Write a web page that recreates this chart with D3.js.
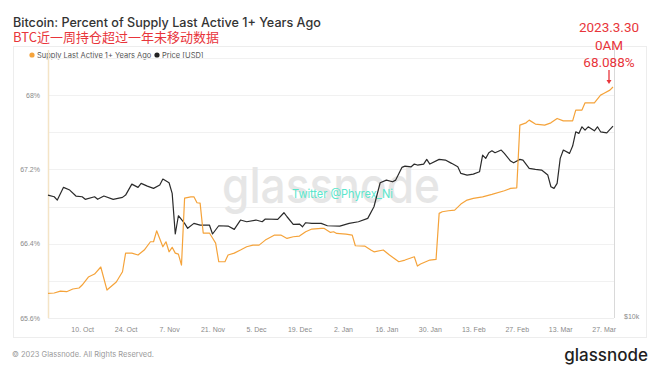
<!DOCTYPE html>
<meta charset="utf-8">
<style>
    body { margin: 0; background: #fff; }
    svg { display: block; font-family: Inter, "Noto Sans", sans-serif; }
    .grid line { stroke: #f1f1f1; }
    .axis text { fill: #8a8a8a; font-size: 7px; }
    .red { fill: #e8353b; font-family: "Liberation Sans Narrow", "Roboto", sans-serif; }
</style>

<body>
    <svg width="660" height="372"></svg>
    <script src="https://d3js.org/d3.v7.min.js"></script>
    <script>
        // Supply Last Active 1+ Years Ago (%)
        var supplyDates = ["2022-09-29", "2022-10-01", "2022-10-03", "2022-10-05", "2022-10-07", "2022-10-09", "2022-10-10", "2022-10-12", "2022-10-14", "2022-10-16",
            "2022-10-18", "2022-10-21", "2022-10-23", "2022-10-24", "2022-10-26", "2022-10-28", "2022-10-30", "2022-11-01", "2022-11-02", "2022-11-03",
            "2022-11-05", "2022-11-06", "2022-11-07", "2022-11-08", "2022-11-09", "2022-11-10", "2022-11-11", "2022-11-12", "2022-11-14", "2022-11-15",
            "2022-11-16", "2022-11-17", "2022-11-18", "2022-11-20", "2022-11-21", "2022-11-22", "2022-11-23", "2022-11-25", "2022-11-26", "2022-11-28",
            "2022-11-30", "2022-12-02", "2022-12-04", "2022-12-06", "2022-12-08", "2022-12-11", "2022-12-13", "2022-12-15", "2022-12-17", "2022-12-19",
            "2022-12-21", "2022-12-23", "2022-12-26", "2022-12-27", "2022-12-29", "2022-12-30", "2022-12-31", "2023-01-03", "2023-01-05", "2023-01-06",
            "2023-01-09", "2023-01-11", "2023-01-12", "2023-01-15", "2023-01-17", "2023-01-20", "2023-01-22", "2023-01-25", "2023-01-26", "2023-01-27",
            "2023-01-30", "2023-02-01", "2023-02-02", "2023-02-03", "2023-02-05", "2023-02-07", "2023-02-09", "2023-02-11", "2023-02-13", "2023-02-16",
            "2023-02-19", "2023-02-23", "2023-02-25", "2023-02-27", "2023-02-28", "2023-03-02", "2023-03-03", "2023-03-05", "2023-03-08", "2023-03-10",
            "2023-03-12", "2023-03-14", "2023-03-17", "2023-03-18", "2023-03-20", "2023-03-21", "2023-03-24", "2023-03-26", "2023-03-27", "2023-03-29",
            "2023-03-30"];
        var supplyValues = [65.865, 65.869, 65.890, 65.883, 65.912, 65.923, 65.955, 66.041, 66.073, 66.149,
            65.901, 65.987, 66.098, 66.299, 66.299, 66.278, 66.332, 66.421, 66.421, 66.539,
            66.367, 66.421, 66.313, 66.361, 66.299, 66.288, 66.170, 66.891, 66.905, 66.905,
            66.841, 66.837, 66.515, 66.515, 66.461, 66.407, 66.206, 66.206, 66.278, 66.299,
            66.332, 66.367, 66.385, 66.385, 66.439, 66.493, 66.493, 66.457, 66.475, 66.482,
            66.529, 66.558, 66.565, 66.565, 66.522, 66.529, 66.511, 66.504, 66.493, 66.378,
            66.375, 66.332, 66.313, 66.332, 66.278, 66.206, 66.224, 66.259, 66.159, 66.181,
            66.224, 66.231, 66.727, 66.744, 66.755, 66.762, 66.827, 66.870, 66.888, 66.905,
            66.931, 66.970, 66.996, 67.002, 67.677, 67.702, 67.731, 67.688, 67.677, 67.702,
            67.749, 67.723, 67.723, 67.839, 67.839, 67.917, 67.917, 68.000, 68.018, 68.054,
            68.088];

        // Price [USD]
        var priceDates = ["2022-09-29", "2022-10-01", "2022-10-02", "2022-10-04", "2022-10-06", "2022-10-08", "2022-10-10", "2022-10-11", "2022-10-14", "2022-10-15",
            "2022-10-17", "2022-10-20", "2022-10-23", "2022-10-24", "2022-10-26", "2022-10-28", "2022-10-29", "2022-10-31", "2022-11-02", "2022-11-04",
            "2022-11-05", "2022-11-07", "2022-11-08", "2022-11-09", "2022-11-10", "2022-11-12", "2022-11-13", "2022-11-15", "2022-11-17", "2022-11-20",
            "2022-11-21", "2022-11-23", "2022-11-26", "2022-11-28", "2022-11-30", "2022-12-02", "2022-12-05", "2022-12-07", "2022-12-08", "2022-12-12",
            "2022-12-14", "2022-12-15", "2022-12-17", "2022-12-19", "2022-12-20", "2022-12-21", "2022-12-23", "2022-12-26", "2022-12-28", "2023-01-01",
            "2023-01-04", "2023-01-07", "2023-01-10", "2023-01-12", "2023-01-14", "2023-01-16", "2023-01-18", "2023-01-19", "2023-01-21", "2023-01-22",
            "2023-01-24", "2023-01-25", "2023-01-26", "2023-01-28", "2023-01-29", "2023-01-30", "2023-02-02", "2023-02-04", "2023-02-06", "2023-02-08",
            "2023-02-09", "2023-02-11", "2023-02-13", "2023-02-15", "2023-02-16", "2023-02-17", "2023-02-18", "2023-02-19", "2023-02-20", "2023-02-22",
            "2023-02-23", "2023-02-25", "2023-02-26", "2023-02-28", "2023-03-01", "2023-03-03", "2023-03-05", "2023-03-07", "2023-03-09", "2023-03-10",
            "2023-03-11", "2023-03-12", "2023-03-13", "2023-03-14", "2023-03-16", "2023-03-17", "2023-03-18", "2023-03-19", "2023-03-20", "2023-03-21",
            "2023-03-22", "2023-03-24", "2023-03-25", "2023-03-26", "2023-03-28", "2023-03-30"];
        var priceValues = [19440, 19265, 18920, 20270, 19975, 19340, 19265, 19000, 19265, 19000,
            19340, 19000, 19200, 19440, 20630, 20270, 20710, 20410, 20160, 20520,
            21200, 20780, 19620, 15750, 17385, 16680, 16240, 16680, 16530, 16530,
            15750, 16470, 16440, 16150, 16985, 16830, 16985, 16830, 17080, 17050,
            17670, 17290, 16600, 16620, 16380, 16740, 16680, 16680, 16470, 16440,
            16680, 16830, 17140, 18250, 20780, 21080, 20890, 21080, 22580, 22740,
            22655, 22990, 22870, 22990, 23580, 22990, 23580, 23490, 23080, 22655,
            21860, 21660, 21780, 22050, 24135, 23710, 24440, 24700, 24440, 24800,
            24360, 23370, 23150, 23580, 23490, 22460, 22340, 22255, 21660, 20335,
            20160, 20710, 23710, 24800, 24360, 25340, 27375, 27140, 28125, 27630,
            28125, 27520, 28125, 27375, 27225, 28230];

        var xTicks = ["2022-10-10", "2022-10-24", "2022-11-07", "2022-11-21", "2022-12-05", "2022-12-19", "2023-01-02",
            "2023-01-16", "2023-01-30", "2023-02-13", "2023-02-27", "2023-03-13", "2023-03-27"];
        var yTicks = [65.6, 66.4, 67.2, 68];
        var yGrid = [65.6, 66.0, 66.4, 66.8, 67.2, 67.6, 68.0, 68.4];
        var priceTicks = [10000];

        var parseD = d3.timeParse("%Y-%m-%d");
        var supply = supplyDates.map(function (d, i) { return { date: parseD(d), value: supplyValues[i] }; });
        var price = priceDates.map(function (d, i) { return { date: parseD(d), value: priceValues[i] }; });

        var svg = d3.select("svg");
        var plotL = 48, plotR = 614, plotT = 58, plotB = 318;

        var x = d3.scaleTime().domain([parseD("2022-09-29"), parseD("2023-03-30")]).range([plotL, 613]);
        var y = d3.scaleLinear().domain([65.6, 68.4]).range([plotB, plotT]);
        var y2 = d3.scaleLog().domain([10000, 40800]).range([plotB, plotT]);

        // card
        svg.append("rect")
            .attr("x", 13.5).attr("y", 46.5).attr("width", 633).attr("height", 291)
            .attr("fill", "none").attr("stroke", "#ededed");

        // title
        svg.append("text").attr("x", 13).attr("y", 27)
            .attr("font-size", 12.6).attr("fill", "#333").attr("font-weight", 500)
            .text("Bitcoin: Percent of Supply Last Active 1+ Years Ago");
        svg.append("text").attr("x", 13).attr("y", 42)
            .attr("font-size", 13).attr("fill", "#e8353b")
            .attr("font-family", "'Noto Sans CJK SC', sans-serif")
            .text("BTC近一周持仓超过一年未移动数据");

        // legend
        var legend = svg.append("g").attr("font-size", 7.5).attr("fill", "#555");
        legend.append("circle").attr("cx", 32).attr("cy", 55).attr("r", 2.6).attr("fill", "#f5a33a");
        legend.append("text").attr("x", 37).attr("y", 57.5).text("Supply Last Active 1+ Years Ago");
        legend.append("circle").attr("cx", 157).attr("cy", 55).attr("r", 2.6).attr("fill", "#222");
        legend.append("text").attr("x", 162).attr("y", 57.5).text("Price [USD]");

        // grid
        svg.append("g").attr("class", "grid")
            .selectAll("line").data(yGrid).join("line")
            .attr("x1", plotL).attr("x2", plotR)
            .attr("y1", function (d) { return Math.round(y(d)) + 0.5; })
            .attr("y2", function (d) { return Math.round(y(d)) + 0.5; });

        // watermark
        svg.append("text").attr("x", 222).attr("y", 203)
            .attr("font-size", 50).attr("font-weight", 500).attr("fill", "#e6e6e6")
            .attr("textLength", 218).attr("lengthAdjust", "spacingAndGlyphs")
            .text("glassnode");

        // axes
        var xAxis = d3.axisBottom(x).tickValues(xTicks.map(parseD))
            .tickFormat(d3.timeFormat("%-d. %b")).tickSize(0).tickPadding(9);
        svg.append("g").attr("class", "axis")
            .attr("transform", "translate(0," + plotB + ")")
            .call(xAxis).call(function (g) { g.select(".domain").remove(); });

        var yAxis = d3.axisLeft(y).tickValues(yTicks)
            .tickFormat(function (d) { return d + "%"; }).tickSize(0).tickPadding(8);
        svg.append("g").attr("class", "axis")
            .attr("transform", "translate(" + plotL + ",0)")
            .call(yAxis).call(function (g) { g.select(".domain").remove(); });

        var yAxis2 = d3.axisRight(y2).tickValues(priceTicks)
            .tickFormat(function (d) { return "$" + d / 1000 + "k"; }).tickSize(0).tickPadding(10);
        svg.append("g").attr("class", "axis")
            .attr("transform", "translate(" + plotR + ",0)")
            .call(yAxis2).call(function (g) { g.select(".domain").remove(); })
            .selectAll("text").attr("dy", "0.1em");

        svg.append("line").attr("x1", plotL + 0.5).attr("x2", plotL + 0.5).attr("y1", plotT - 8).attr("y2", plotB)
            .attr("stroke", "#f4e4c6").attr("stroke-width", 1.5);
        svg.append("line").attr("x1", plotR + 0.5).attr("x2", plotR + 0.5).attr("y1", 46).attr("y2", plotB)
            .attr("stroke", "#d9d9d9");
        svg.append("line").attr("x1", plotL).attr("x2", plotR).attr("y1", plotB + 0.5).attr("y2", plotB + 0.5)
            .attr("stroke", "#eeeeee");

        // twitter tag
        svg.append("text").attr("x", 292).attr("y", 198)
            .attr("font-size", 12).attr("fill", "#5ae6cc")
            .attr("textLength", 101).attr("lengthAdjust", "spacingAndGlyphs")
            .text("Twitter @Phyrex_Ni");

        // lines
        var line = d3.line().x(function (d) { return x(d.date); }).y(function (d) { return y(d.value); });
        var line2 = d3.line().x(function (d) { return x(d.date); }).y(function (d) { return y2(d.value); });

        svg.append("path").datum(price)
            .attr("fill", "none").attr("stroke", "#2b2b2b").attr("stroke-width", 1.2)
            .attr("stroke-linejoin", "round").attr("d", line2);
        svg.append("path").datum(supply)
            .attr("fill", "none").attr("stroke", "#f5a33a").attr("stroke-width", 1.2)
            .attr("stroke-linejoin", "round").attr("d", line);

        // annotation
        var last = supply[supply.length - 1];
        var ax = x(last.date) - 4;
        var ann = svg.append("g").attr("class", "red").attr("text-anchor", "middle").attr("font-size", 13.5);
        ann.append("text").attr("class", "red").attr("x", ax).attr("y", 32).text("2023.3.30");
        ann.append("text").attr("class", "red").attr("x", ax).attr("y", 50).text("0AM");
        ann.append("text").attr("class", "red").attr("x", ax).attr("y", 67).text(d3.format(".3f")(last.value) + "%");
        ann.append("line").attr("x1", ax).attr("x2", ax).attr("y1", 70).attr("y2", 81)
            .attr("stroke", "#e8353b").attr("stroke-width", 1.3);
        ann.append("path")
            .attr("d", "M" + (ax - 2.5) + ",80L" + (ax + 2.5) + ",80L" + ax + "," + (y(last.value) - 3) + "Z")
            .attr("fill", "#e8353b");

        // footer
        svg.append("text").attr("x", 12).attr("y", 357)
            .attr("font-size", 7.5).attr("fill", "#9a9a9a")
            .text("© 2023 Glassnode. All Rights Reserved.");
        svg.append("text").attr("x", 648).attr("y", 361).attr("text-anchor", "end")
            .attr("font-size", 17).attr("fill", "#1e1e1e").attr("font-weight", 500)
            .text("glassnode");
    </script>
</body>
